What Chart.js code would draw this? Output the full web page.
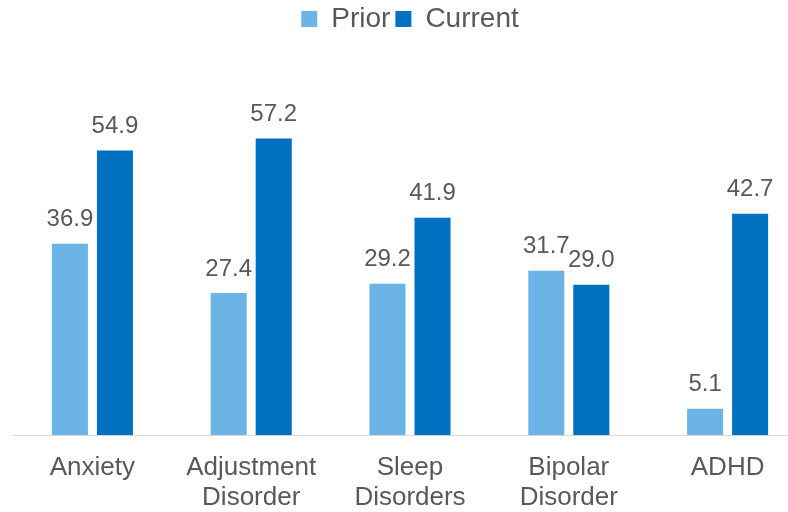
<!DOCTYPE html>
<html>
<head>
<meta charset="utf-8">
<script src="https://cdn.jsdelivr.net/npm/chart.js@4.4.1/dist/chart.umd.min.js"></script>
<style>
  html, body { margin: 0; padding: 0; background: #fff; overflow: hidden; }
  #wrap { width: 807px; height: 523px; }
</style>
</head>
<body>
<div id="wrap"><canvas id="disorders-chart"></canvas></div>
<script>
const categories = [['Anxiety'], ['Adjustment', 'Disorder'], ['Sleep', 'Disorders'], ['Bipolar', 'Disorder'], ['ADHD']];
const priorData = [36.9, 27.4, 29.2, 31.7, 5.1];
const currentData = [54.9, 57.2, 41.9, 29.0, 42.7];

// draws the value above each bar
const barValueLabels = {
    id: 'barValueLabels',
    afterDatasetsDraw(chart) {
        const ctx = chart.ctx;
        ctx.save();
        ctx.font = '24px "Liberation Sans", Arial, sans-serif';
        ctx.fillStyle = '#595959';
        ctx.textAlign = 'center';
        ctx.textBaseline = 'bottom';
        chart.data.datasets.forEach(function (ds, i) {
            chart.getDatasetMeta(i).data.forEach(function (bar, j) {
                ctx.fillText(ds.data[j].toFixed(1), bar.x, bar.y - 12);
            });
        });
        ctx.restore();
    }
};

const ctx = document.getElementById('disorders-chart').getContext('2d');
const disordersChart = new Chart(ctx, {
    type: 'bar',
    data: {
        labels: categories,
        datasets: [{
            label: 'Prior',
            data: priorData,
            backgroundColor: '#6CB4E6',
            barPercentage: 0.8,
            categoryPercentage: 0.567
        }, {
            label: 'Current',
            data: currentData,
            backgroundColor: '#0070C0',
            barPercentage: 0.8,
            categoryPercentage: 0.567
        }]
    },
    options: {
        responsive: true,
        maintainAspectRatio: false,
        animation: false,
        layout: { padding: { left: 13, right: 0, top: 0, bottom: 0 } },
        scales: {
            x: {
                grid: { display: false },
                border: { color: '#D9D9D9', width: 1 },
                ticks: {
                    color: '#595959',
                    font: { family: '"Liberation Sans", Arial, sans-serif', size: 26, lineHeight: 1.15 },
                    padding: 10,
                    maxRotation: 0,
                    autoSkip: false
                }
            },
            y: {
                display: false,
                min: 0,
                max: 75.6
            }
        },
        plugins: {
            legend: {
                position: 'top',
                labels: {
                    color: '#595959',
                    font: { family: '"Liberation Sans", Arial, sans-serif', size: 28 },
                    boxWidth: 16,
                    boxHeight: 16,
                    padding: 5
                }
            },
            tooltip: { enabled: false }
        }
    },
    plugins: [barValueLabels]
});
</script>
</body>
</html>
